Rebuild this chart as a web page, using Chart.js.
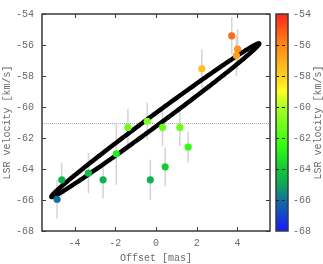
<!DOCTYPE html>
<html lang="en">
<head>
    <meta charset="UTF-8">
    <title>LSR velocity vs offset</title>
    <style>
        html, body { margin: 0; padding: 0; background: #fff; }
        #myChart { width: 323px !important; height: 264px !important; display: block; }
    </style>
    <script src="https://cdn.jsdelivr.net/npm/chart.js"></script>
</head>
<body>
    <canvas id="myChart" width="323" height="264"></canvas>
    <script>
        // data
        var offsets    = [-4.86, -4.63, -3.32, -2.60, -1.95, -0.28, 0.45, -1.38, -0.43, 0.32, 1.17, 1.58, 2.25, 3.72, 4.01, 3.95];
        var velocities = [-65.95, -64.70, -64.27, -64.70, -63.02, -64.70, -63.86, -61.32, -60.92, -61.32, -61.32, -62.58, -57.54, -55.41, -56.27, -56.68];
        var velErrors  = [1.25, 1.1, 1.3, 1.2, 2.0, 1.3, 1.25, 1.2, 1.2, 1.2, 1.2, 1.0, 1.25, 1.2, 1.3, 1.3];

        var xTicks = [-4, -2, 0, 2, 4];
        var yTicks = [-68, -66, -64, -62, -60, -58, -56, -54];
        var xRange = [-5.6, 5.6];
        var yRange = [-68, -54];
        var systemicVel = -61;

        // ring fit: two tips of the long axis and the short half-axis (data units)
        var ringTipA = [-5.14, -65.8];
        var ringTipB = [5.07, -55.9];
        var ringMinor = [0.17, -0.27];

        // colour map for velocity
        var cmapValues = [-68, -66, -65, -64, -62.5, -60, -59, -58, -56, -54];
        var cmapColors = ['#1818ff', '#1070a0', '#10a858', '#10c838', '#30ff10', '#a8ff20', '#ffff20', '#ffd020', '#ff8818', '#ff2418'];

        function hexToRgb(h) {
            return [parseInt(h.substr(1, 2), 16), parseInt(h.substr(3, 2), 16), parseInt(h.substr(5, 2), 16)];
        }
        function velColor(v) {
            if (v <= cmapValues[0]) return cmapColors[0];
            for (var i = 1; i < cmapValues.length; i++) {
                if (v <= cmapValues[i]) {
                    var f = (v - cmapValues[i - 1]) / (cmapValues[i] - cmapValues[i - 1]);
                    var a = hexToRgb(cmapColors[i - 1]), b = hexToRgb(cmapColors[i]);
                    return 'rgb(' + a.map(function (c, k) { return Math.round(c + (b[k] - c) * f); }).join(',') + ')';
                }
            }
            return cmapColors[cmapColors.length - 1];
        }

        var FONT = "'Liberation Mono', 'DejaVu Sans Mono', monospace";
        var TEXT = '#6a6a6a';
        var AXIS = '#3a3a3a';
        Chart.defaults.font.family = FONT;
        Chart.defaults.font.size = 10;
        Chart.defaults.color = TEXT;

        var points = offsets.map(function (x, i) { return { x: x, y: velocities[i] }; });

        // error bars, reference line and ring under the points
        var underlay = {
            id: 'underlay',
            beforeDatasetsDraw: function (chart) {
                var ctx = chart.ctx, xs = chart.scales.x, ys = chart.scales.y, area = chart.chartArea;
                ctx.save();
                ctx.beginPath();
                ctx.rect(area.left, area.top, area.right - area.left, area.bottom - area.top);
                ctx.clip();

                // systemic velocity
                ctx.strokeStyle = '#aaa';
                ctx.lineWidth = 1;
                ctx.setLineDash([1, 1]);
                var ys0 = Math.round(ys.getPixelForValue(systemicVel)) + 0.5;
                ctx.beginPath();
                ctx.moveTo(area.left, ys0);
                ctx.lineTo(area.right, ys0);
                ctx.stroke();
                ctx.setLineDash([]);

                // error bars
                ctx.strokeStyle = '#d4d4d4';
                ctx.lineWidth = 1.5;
                offsets.forEach(function (x, i) {
                    var px = xs.getPixelForValue(x);
                    ctx.beginPath();
                    ctx.moveTo(px, ys.getPixelForValue(velocities[i] + velErrors[i]));
                    ctx.lineTo(px, ys.getPixelForValue(velocities[i] - velErrors[i]));
                    ctx.stroke();
                });

                // ring
                var cx = (ringTipA[0] + ringTipB[0]) / 2, cy = (ringTipA[1] + ringTipB[1]) / 2;
                var c = [xs.getPixelForValue(cx), ys.getPixelForValue(cy)];
                var a = [xs.getPixelForValue(ringTipB[0]) - c[0], ys.getPixelForValue(ringTipB[1]) - c[1]];
                var b = [xs.getPixelForValue(cx + ringMinor[0]) - c[0], ys.getPixelForValue(cy + ringMinor[1]) - c[1]];
                ctx.strokeStyle = '#000';
                ctx.lineWidth = 4.5;
                ctx.lineJoin = 'round';
                ctx.beginPath();
                for (var k = 0; k <= 360; k++) {
                    var t = k * Math.PI / 180;
                    var px2 = c[0] + a[0] * Math.cos(t) + b[0] * Math.sin(t);
                    var py2 = c[1] + a[1] * Math.cos(t) + b[1] * Math.sin(t);
                    if (k === 0) ctx.moveTo(px2, py2); else ctx.lineTo(px2, py2);
                }
                ctx.closePath();
                ctx.stroke();
                ctx.restore();
            }
        };

        // frame with inward ticks, plus the colour bar
        var frame = {
            id: 'frame',
            afterDraw: function (chart) {
                var ctx = chart.ctx, xs = chart.scales.x, ys = chart.scales.y, area = chart.chartArea;
                ctx.save();
                ctx.strokeStyle = AXIS;
                ctx.lineWidth = 1.5;
                ctx.strokeRect(area.left, area.top, area.right - area.left, area.bottom - area.top);
                ctx.lineWidth = 1;
                ctx.beginPath();
                xTicks.forEach(function (v) {
                    var px = Math.round(xs.getPixelForValue(v)) + 0.5;
                    ctx.moveTo(px, area.bottom); ctx.lineTo(px, area.bottom - 4);
                    ctx.moveTo(px, area.top); ctx.lineTo(px, area.top + 4);
                });
                yTicks.forEach(function (v) {
                    var py = Math.round(ys.getPixelForValue(v)) + 0.5;
                    ctx.moveTo(area.left, py); ctx.lineTo(area.left + 4, py);
                    ctx.moveTo(area.right, py); ctx.lineTo(area.right - 4, py);
                });
                ctx.stroke();

                // colour bar
                var bx = area.right + 6, bw = 12;
                var top = ys.getPixelForValue(yRange[1]), bot = ys.getPixelForValue(yRange[0]);
                var grad = ctx.createLinearGradient(0, bot, 0, top);
                cmapValues.forEach(function (v, i) {
                    grad.addColorStop((v - yRange[0]) / (yRange[1] - yRange[0]), cmapColors[i]);
                });
                ctx.fillStyle = grad;
                ctx.fillRect(bx, top, bw, bot - top);
                ctx.strokeStyle = AXIS;
                ctx.lineWidth = 1.5;
                ctx.strokeRect(bx, top, bw, bot - top);
                ctx.lineWidth = 1;
                ctx.setLineDash([3, 3]);
                ctx.strokeStyle = '#222';
                yTicks.forEach(function (v) {
                    if (v === yRange[0] || v === yRange[1]) return;
                    var py = Math.round(ys.getPixelForValue(v)) + 0.5;
                    ctx.beginPath();
                    ctx.moveTo(bx, py); ctx.lineTo(bx + bw, py);
                    ctx.stroke();
                });
                ctx.setLineDash([]);
                ctx.fillStyle = TEXT;
                ctx.font = '10px ' + FONT;
                ctx.textAlign = 'left';
                ctx.textBaseline = 'middle';
                yTicks.forEach(function (v) {
                    ctx.fillText(String(v), bx + bw + 5, ys.getPixelForValue(v));
                });
                ctx.translate(318, (top + bot) / 2);
                ctx.rotate(-Math.PI / 2);
                ctx.textAlign = 'center';
                ctx.fillText('LSR velocity [km/s]', 0, 0);
                ctx.restore();
            }
        };

        new Chart(document.getElementById('myChart').getContext('2d'), {
            type: 'scatter',
            data: {
                datasets: [{
                    data: points,
                    backgroundColor: velocities.map(velColor),
                    borderWidth: 0,
                    pointRadius: 3.6,
                    pointHoverRadius: 3.6
                }]
            },
            options: {
                responsive: false,
                animation: false,
                events: [],
                layout: { padding: { top: 3, right: 53, left: 0, bottom: 0 } },
                plugins: { legend: { display: false }, tooltip: { enabled: false } },
                scales: {
                    x: {
                        type: 'linear',
                        min: xRange[0],
                        max: xRange[1],
                        afterBuildTicks: function (s) { s.ticks = xTicks.map(function (v) { return { value: v }; }); },
                        afterFit: function (s) { s.height = 33; },
                        grid: { display: false, drawTicks: false },
                        border: { display: false },
                        ticks: { padding: 6, maxRotation: 0, callback: function (v) { return String(v); } },
                        title: { display: true, text: 'Offset [mas]', padding: { top: 2, bottom: 0 } }
                    },
                    y: {
                        type: 'linear',
                        min: yRange[0],
                        max: yRange[1],
                        afterBuildTicks: function (s) { s.ticks = yTicks.map(function (v) { return { value: v }; }); },
                        afterFit: function (s) { s.width = 42; },
                        grid: { display: false, drawTicks: false },
                        border: { display: false },
                        ticks: { padding: 8, callback: function (v) { return String(v); } },
                        title: { display: true, text: 'LSR velocity [km/s]', padding: { top: 1, bottom: 0 } }
                    }
                }
            },
            plugins: [underlay, frame]
        });
    </script>
</body>
</html>
